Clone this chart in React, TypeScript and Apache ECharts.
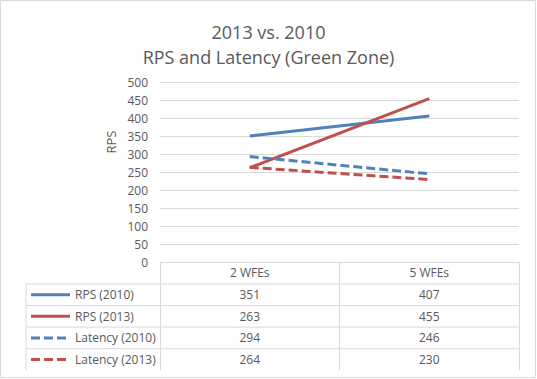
import React, { useEffect, useRef } from "react";
import * as echarts from "echarts";

const categories = ["2 WFEs", "5 WFEs"];
const seriesNames = ["RPS (2010)", "RPS (2013)", "Latency (2010)", "Latency (2013)"];
const rps2010 = [351, 407];
const rps2013 = [263, 455];
const latency2010 = [294, 246];
const latency2013 = [264, 230];
const seriesValues = [rps2010, rps2013, latency2010, latency2013];
const seriesColors = ["#4F81BD", "#C0504D", "#4F81BD", "#C0504D"];
const seriesDashed = [false, false, true, true];
const titleLines = ["2013 vs. 2010", "RPS and Latency (Green Zone)"];
const yAxisTitle = "RPS";
const yMin = 0;
const yMax = 500;
const yInterval = 50;

const FONT = "'Open Sans', sans-serif";
const TEXT = "#595959";
const GRIDC = "#d9d9d9";
const DASH = [9, 4];

export default function App() {
  const ref = useRef<HTMLDivElement>(null);
  useEffect(() => {
    if (!ref.current) return;
    const chart = echarts.init(ref.current, undefined, { renderer: "svg" });
    const W = 537;
    const H = 379;
    const gridTop = 82.5;
    const gridBottom = 116.7;
    const gridLeft = 160;
    const gridRight = 18;
    const tableTop = H - gridBottom;
    const rowH = 21.6;
    const nRows = seriesNames.length;
    const tableBottom = tableTop + rowH * (nRows + 1);

    chart.setOption({
      animation: false,
      textStyle: { fontFamily: FONT },
      title: {
        text: titleLines.join("\n"),
        left: "center",
        top: 14,
        textStyle: {
          fontFamily: FONT,
          fontSize: 18,
          fontWeight: "normal",
          color: TEXT,
          lineHeight: 25,
        },
      },
      grid: { left: gridLeft, right: gridRight, top: gridTop, bottom: gridBottom },
      xAxis: {
        type: "category",
        data: categories,
        boundaryGap: true,
        axisLine: { show: true, lineStyle: { color: GRIDC, width: 1 } },
        axisTick: { show: true, length: tableBottom - tableTop, lineStyle: { color: GRIDC } },
        axisLabel: { color: TEXT, fontSize: 12, fontFamily: FONT, margin: 4 },
      },
      yAxis: {
        type: "value",
        min: yMin,
        max: yMax,
        interval: yInterval,
        axisLine: { show: false },
        axisTick: { show: false },
        splitLine: { lineStyle: { color: GRIDC, width: 1 } },
        axisLabel: { color: TEXT, fontSize: 12, fontFamily: FONT, margin: 12 },
      },
      series: seriesNames.map((name, i) => ({
        name,
        type: "line",
        data: seriesValues[i],
        symbol: "none",
        lineStyle: {
          color: seriesColors[i],
          width: 3,
          type: seriesDashed[i] ? DASH : "solid",
          cap: "butt",
        },
        itemStyle: { color: seriesColors[i] },
      })),
    });

    const colX = categories.map((_, i) => chart.convertToPixel({ xAxisIndex: 0 }, i) as number);
    const graphics: any[] = [];
    graphics.push({
      type: "rect",
      shape: { x: 0.5, y: 0.5, width: W - 2, height: H - 2 },
      style: { fill: "none", stroke: GRIDC, lineWidth: 1 },
      silent: true,
    });
    graphics.push({
      type: "text",
      x: 111,
      y: 142,
      rotation: Math.PI / 2,
      style: {
        text: yAxisTitle,
        fill: TEXT,
        font: `13px ${FONT}`,
        align: "center",
        verticalAlign: "middle",
      },
    });
    const tableLeft = 26;
    const tableRight = W - gridRight;
    for (let r = 1; r <= nRows; r++) {
      const y = tableTop + rowH * r;
      graphics.push({
        type: "line",
        shape: { x1: tableLeft, y1: y, x2: tableRight, y2: y },
        style: { stroke: GRIDC, lineWidth: 1 },
      });
    }
    graphics.push({
      type: "line",
      shape: { x1: tableLeft, y1: tableTop + rowH, x2: tableLeft, y2: tableBottom },
      style: { stroke: GRIDC, lineWidth: 1 },
    });
    seriesNames.forEach((name, i) => {
      const cy = tableTop + rowH * (i + 1) + rowH / 2;
      graphics.push({
        type: "line",
        shape: { x1: 31, y1: cy, x2: 70, y2: cy },
        style: {
          stroke: seriesColors[i],
          lineWidth: 3,
          lineDash: seriesDashed[i] ? DASH : null,
        },
      });
      graphics.push({
        type: "text",
        x: 75,
        y: cy,
        style: { text: name, fill: TEXT, font: `12px ${FONT}`, align: "left", verticalAlign: "middle" },
      });
      seriesValues[i].forEach((v, j) => {
        graphics.push({
          type: "text",
          x: colX[j],
          y: cy,
          style: { text: String(v), fill: TEXT, font: `12px ${FONT}`, align: "center", verticalAlign: "middle" },
        });
      });
    });
    chart.setOption({ graphic: graphics });

    return () => chart.dispose();
  }, []);
  return (
    <div
      ref={ref}
      style={{ position: "fixed", left: 0, top: 0, width: 537, height: 379, background: "#fff" }}
    />
  );
}
